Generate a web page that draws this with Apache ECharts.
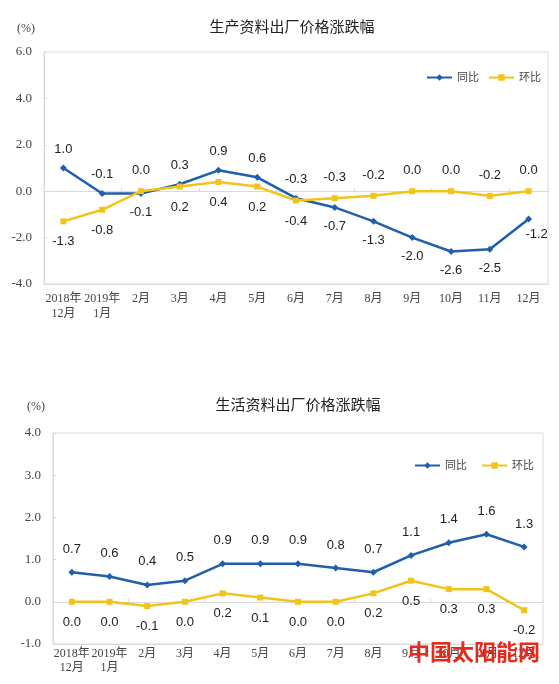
<!DOCTYPE html>
<html><head><meta charset="utf-8">
<script src="https://cdn.jsdelivr.net/npm/echarts@6/dist/echarts.min.js"></script>
<style>html,body{margin:0;padding:0;background:#fff}#c{width:559px;height:684px}</style>
</head><body><div id="c"></div>
<script>
const categories = ['2018年\n12月','2019年\n1月','2月','3月','4月','5月','6月','7月','8月','9月','10月','11月','12月'];
// 生产资料
const prodYoY = [1.0,-0.1,-0.1,0.3,0.9,0.6,-0.3,-0.7,-1.3,-2.0,-2.6,-2.5,-1.2];
const prodMoM = [-1.3,-0.8,0.0,0.2,0.4,0.2,-0.4,-0.3,-0.2,0.0,0.0,-0.2,0.0];
// 生活资料
const lifeYoY = [0.7,0.6,0.4,0.5,0.9,0.9,0.9,0.8,0.7,1.1,1.4,1.6,1.3];
const lifeMoM = [0.0,0.0,-0.1,0.0,0.2,0.1,0.0,0.0,0.2,0.5,0.3,0.3,-0.2];
const title1 = '生产资料出厂价格涨跌幅';
const title2 = '生活资料出厂价格涨跌幅';
const unit = '(%)';
const watermark = '中国太阳能网';

// label placement (styling, separate from data)
const T='top', B='bottom';
const prodYoYPos = [T,T,B,T,T,T,T,B,B,B,B,B,B];
const prodMoMPos = [B,B,T,B,B,B,B,T,T,T,T,T,T];
const prodYoYOff = [[0,0],[0,0],[0,0],[0,0],[0,0],[0,0],[0,0],[0,0],[0,0],[0,0],[0,0],[0,0],[8,-4]];

const BLUE='#1f5fab', YELLOW='#f2c318';
const serif = "'Liberation Serif','Noto Sans CJK SC',serif";
const sans = "'Liberation Sans','Noto Sans CJK SC',sans-serif";

function items(vals,pos,dist,off){
  return vals.map((v,i)=>({value:v,label:{position:pos[i],distance:dist,offset:off?off[i]:[0,0]}}));
}
function yAxis(gi,min,max,step){
  return {type:'value',gridIndex:gi,min:min,max:max,interval:step,
    axisLine:{show:true,lineStyle:{color:'#d9d9d9'}},
    axisTick:{show:true,length:3,inside:true,lineStyle:{color:'#d9d9d9'}},
    splitLine:{show:false},
    axisLabel:{formatter:v=>v.toFixed(1),margin:12,color:'#444',fontFamily:serif,fontSize:13}};
}
function xAxes(gi,lh,margin){
  return [
    {type:'category',gridIndex:gi,data:categories,boundaryGap:true,
     axisLine:{onZero:false,lineStyle:{color:'#d9d9d9'}},axisTick:{show:false},
     axisLabel:{interval:0,color:'#444',fontFamily:serif,fontSize:12,lineHeight:lh,margin:margin}},
    {type:'category',gridIndex:gi,data:categories,boundaryGap:true,position:'bottom',
     axisLine:{onZero:true,lineStyle:{color:'#d9d9d9'}},
     axisTick:{show:true,inside:true,length:3,lineStyle:{color:'#d9d9d9'}},
     axisLabel:{show:false}}
  ];
}
const lbl = {show:true,color:'#222',fontFamily:sans,fontSize:13,formatter:p=>p.value.toFixed(1)};
function line(name,xi,yi,data,color,sym){
  return {name:name,type:'line',xAxisIndex:xi,yAxisIndex:yi,data:data,
    symbol:sym,symbolSize:sym==='diamond'?7:6,
    itemStyle:{color:color},lineStyle:{color:color,width:2.5},
    label:Object.assign({},lbl),emphasis:{disabled:true},animation:false};
}
const legendText = {fontFamily:sans,fontSize:11,color:'#444'};
const chart = echarts.init(document.getElementById('c'));
chart.setOption({
  animation:false,
  title:[
    {text:title1,left:287,textAlign:'center',top:15,textStyle:{fontFamily:sans,fontSize:15,fontWeight:'normal',color:'#222'}},
    {text:title2,left:293,textAlign:'center',top:393,textStyle:{fontFamily:sans,fontSize:15,fontWeight:'normal',color:'#222'}}
  ],
  legend:[
    {data:['同比','环比'],left:426,top:72,padding:0,itemWidth:25,itemHeight:8,itemGap:9,textStyle:legendText},
    {data:['同比 ','环比 '],left:414,top:460,padding:0,itemWidth:25,itemHeight:8,itemGap:14,textStyle:legendText,
     formatter:n=>n.trim()}
  ],
  graphic:[
    {type:'text',left:17,top:23,style:{text:unit,font:"12px 'Liberation Serif'",fill:'#444'}},
    {type:'text',left:27,top:401,style:{text:unit,font:"12px 'Liberation Serif'",fill:'#444'}},
    {type:'text',left:408,top:641,z:100,style:{text:watermark,font:"bold 22px 'Noto Sans CJK SC'",fill:'#e32b1e'}}
  ],
  grid:[
    {left:44,top:52,width:504,height:232,show:true,borderColor:'#dcdcdc',borderWidth:1,backgroundColor:'transparent'},
    {left:53,top:433,width:490,height:211,show:true,borderColor:'#dcdcdc',borderWidth:1,backgroundColor:'transparent'}
  ],
  xAxis:[].concat(xAxes(0,15,7),xAxes(1,14,3)),
  yAxis:[yAxis(0,-4,6,2),yAxis(1,-1,4,1)],
  series:[
    line('同比',0,0,items(prodYoY,prodYoYPos,9,prodYoYOff),BLUE,'diamond'),
    line('环比',0,0,items(prodMoM,prodMoMPos,11),YELLOW,'rect'),
    line('同比 ',2,1,items(lifeYoY,prodYoYPos.map(()=>T),13),BLUE,'diamond'),
    line('环比 ',2,1,items(lifeMoM,prodYoYPos.map(()=>B),11),YELLOW,'rect')
  ]
});
</script></body></html>
